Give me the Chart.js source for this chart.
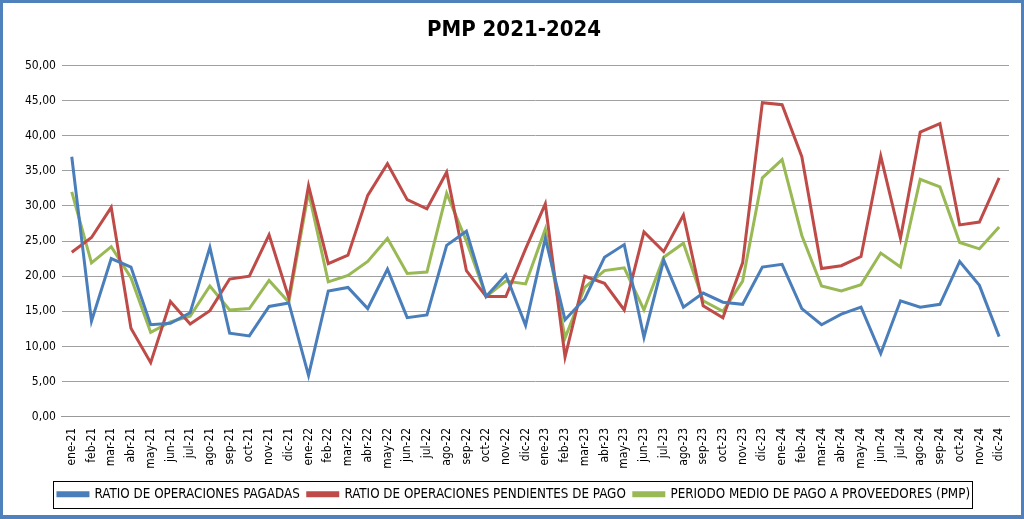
<!DOCTYPE html>
<html>
<head>
<meta charset="utf-8">
<script src="https://cdn.jsdelivr.net/npm/chart.js@4"></script>
<style>
  html, body { margin: 0; padding: 0; background: #fff; }
  #wrap {
    width: 1024px; height: 519px; box-sizing: border-box;
    border: 3px solid #4F81BD; border-bottom-width: 4px; background: #fff;
  }
  canvas { display: block; }
</style>
</head>
<body>
<div id="wrap"><canvas id="chart" width="1018" height="512"></canvas></div>
<script>
const months = ["ene","feb","mar","abr","may","jun","jul","ago","sep","oct","nov","dic"];
const years = ["21","22","23","24"];
const labels = [];
years.forEach(y => months.forEach(m => labels.push(m + "-" + y)));

const pagadas = [
  37.0, 13.6, 22.5, 21.3, 13.1, 13.3, 14.8, 24.1, 11.9, 11.5, 15.7, 16.2,
  5.9, 17.9, 18.4, 15.4, 21.0, 14.1, 14.5, 24.4, 26.4, 17.1, 20.2, 13.0,
  25.4, 13.8, 16.8, 22.7, 24.5, 11.3, 22.3, 15.6, 17.6, 16.3, 16.0, 21.3,
  21.7, 15.4, 13.1, 14.6, 15.6, 9.0, 16.5, 15.6, 16.0, 22.1, 18.7, 11.4
];
const pendientes = [
  23.4, 25.5, 29.8, 12.6, 7.7, 16.4, 13.2, 15.1, 19.6, 20.0, 25.9, 16.9,
  32.9, 21.8, 23.0, 31.5, 36.0, 30.9, 29.6, 34.8, 20.8, 17.1, 17.1, 23.9,
  30.3, 8.5, 20.0, 19.0, 15.2, 26.3, 23.5, 28.7, 15.8, 14.1, 21.9, 44.7,
  44.4, 37.0, 21.1, 21.5, 22.8, 37.1, 25.4, 40.5, 41.7, 27.3, 27.7, 34.0
];
const pmp = [
  32.0, 21.9, 24.2, 19.8, 12.0, 13.5, 14.3, 18.6, 15.2, 15.4, 19.4, 16.3,
  32.0, 19.2, 20.1, 22.1, 25.4, 20.4, 20.6, 31.8, 25.0, 17.1, 19.3, 18.9,
  26.7, 11.2, 18.4, 20.8, 21.2, 15.2, 22.7, 24.7, 16.5, 15.0, 19.3, 34.0,
  36.6, 25.8, 18.6, 17.9, 18.8, 23.3, 21.3, 33.8, 32.7, 24.8, 23.9, 27.0
];

const FONT = "'DejaVu Sans Condensed', 'Liberation Sans', Arial, sans-serif";

// box round the legend items only, like the spreadsheet one
const legendBox = {
  id: "legendBox",
  afterDraw(chart) {
    const lg = chart.legend;
    if (!lg || !lg.legendHitBoxes.length) return;
    const boxes = lg.legendHitBoxes;
    let x0 = Math.min(...boxes.map(b => b.left)) - 5;
    let x1 = Math.max(...boxes.map(b => b.left + b.width)) + 2;
    let y0 = Math.min(...boxes.map(b => b.top)) - 7;
    let y1 = Math.max(...boxes.map(b => b.top + b.height)) + 7;
    const ctx = chart.ctx;
    ctx.save();
    ctx.strokeStyle = "#000";
    ctx.lineWidth = 1;
    ctx.strokeRect(Math.round(x0) + 0.5, Math.round(y0) + 0.5,
                   Math.round(x1 - x0), Math.round(y1 - y0));
    ctx.restore();
  }
};

function ds(label, data, color) {
  return {
    label, data,
    borderColor: color, backgroundColor: color,
    borderWidth: 3, pointRadius: 0, tension: 0, fill: false
  };
}

new Chart(document.getElementById("chart"), {
  type: "line",
  data: {
    labels,
    datasets: [
      ds("RATIO DE OPERACIONES PAGADAS", pagadas, "#4A7EBB"),
      ds("RATIO DE OPERACIONES PENDIENTES DE PAGO", pendientes, "#BE4B48"),
      ds("PERIODO MEDIO DE PAGO A PROVEEDORES (PMP)", pmp, "#98B954")
    ]
  },
  options: {
    responsive: false,
    animation: false,
    layout: { padding: { left: 16, right: 12, top: 4, bottom: 4 } },
    plugins: {
      title: {
        display: true,
        text: "PMP 2021-2024",
        color: "#000",
        font: { family: FONT, size: 22, weight: "bold" },
        padding: { top: 10, bottom: 22 }
      },
      legend: {
        position: "bottom",
        labels: {
          color: "#000",
          font: { family: FONT, size: 13.3 },
          boxWidth: 30, boxHeight: 3,
          padding: 8
        }
      },
      tooltip: { enabled: false }
    },
    scales: {
      x: {
        offset: true,
        grid: { display: false },
        border: { color: "#999" },
        afterFit(scale) { scale.height += 8; },
        ticks: {
          color: "#000", autoSkip: false,
          maxRotation: 90, minRotation: 90,
          font: { family: FONT, size: 12 }
        }
      },
      y: {
        min: 0, max: 50,
        grid: { color: "#a0a0a0", drawTicks: false },
        border: { display: false },
        ticks: {
          stepSize: 5, color: "#000", padding: 6,
          font: { family: FONT, size: 12 },
          callback: v => v.toFixed(2).replace(".", ",")
        }
      }
    }
  },
  plugins: [legendBox]
});
</script>
</body>
</html>
